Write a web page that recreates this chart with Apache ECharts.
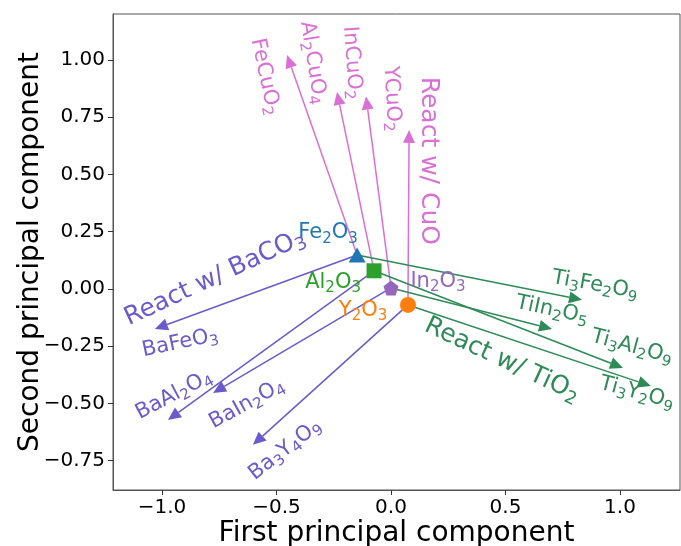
<!DOCTYPE html>
<html>
<head>
<meta charset="utf-8">
<script src="https://cdn.jsdelivr.net/npm/echarts@6/dist/echarts.min.js"></script>
<style>html,body{margin:0;padding:0;background:#fff}#c{width:681px;height:546px}</style>
</head>
<body>
<div id="c"></div>
<script>
// ---- data ----
const oxides = ['Fe2O3', 'Al2O3', 'In2O3', 'Y2O3'];
const oxideX = [-0.148, -0.074, 0.000, 0.074];
const oxideY = [0.148, 0.079, 0.004, -0.070];

const cuoProducts = ['FeCuO2', 'Al2CuO4', 'InCuO2', 'YCuO2'];
const cuoX = [-0.454, -0.236, -0.109, 0.079];
const cuoY = [1.021, 0.860, 0.840, 0.694];

const tio2Products = ['Ti3Fe2O9', 'Ti3Al2O9', 'TiIn2O5', 'Ti3Y2O9'];
const tio2X = [0.834, 1.013, 0.703, 1.135];
const tio2Y = [-0.048, -0.345, -0.175, -0.424];

const bacoProducts = ['BaFeO3', 'BaAl2O4', 'BaIn2O4', 'Ba3Y4O9'];
const bacoX = [-1.031, -0.974, -0.777, -0.603];
const bacoY = [-0.175, -0.572, -0.454, -0.681];

// annotation anchors (data units) and rotation (deg)
const labelText = ['FeCuO2', 'Al2CuO4', 'InCuO2', 'YCuO2', 'React w/ CuO',
  'Fe2O3', 'Al2O3', 'In2O3', 'Y2O3',
  'Ti3Fe2O9', 'TiIn2O5', 'Ti3Al2O9', 'Ti3Y2O9', 'React w/ TiO2',
  'React w/ BaCO3', 'BaFeO3', 'BaAl2O4', 'BaIn2O4', 'Ba3Y4O9'];
const labelX = [-0.550, -0.341, -0.170, 0.004, 0.162,
  -0.275, -0.253, 0.205, -0.122,
  0.891, 0.703, 1.052, 1.074, 0.485,
  -0.769, -0.921, -0.948, -0.629, -0.463];
const labelY = [0.926, 0.987, 0.987, 0.830, 0.559,
  0.244, 0.026, 0.031, -0.096,
  0.017, -0.092, -0.253, -0.454, -0.310,
  0.048, -0.236, -0.463, -0.502, -0.703];
const labelRot = [-78, -81, -86, -87, -90,
  0, 0, 0, 0,
  -10, -12, -15, -15, -25,
  25, 12, 28, 29, 38];
const labelGroup = ['cuo', 'cuo', 'cuo', 'cuo', 'cuoBig',
  'ox0', 'ox1', 'ox2', 'ox3',
  'ti', 'ti', 'ti', 'ti', 'tiBig',
  'baBig', 'ba', 'ba', 'ba', 'ba'];

const xTicks = [-1.0, -0.5, 0.0, 0.5, 1.0];
const yTicks = [-0.75, -0.5, -0.25, 0, 0.25, 0.5, 0.75, 1.0];

// ---- styles ----
const PINK = '#DA70D6', PURPLE = '#6A5ACD', GREEN = '#2E8B57';
const markerColors = ['#1f77b4', '#2ca02c', '#9467bd', '#ff7f0e'];
const markerSymbols = ['triangle', 'rect',
  'path://M0,-1 L0.951,-0.309 L0.588,0.809 L-0.588,0.809 L-0.951,-0.309 Z', 'circle'];
const markerSizes = [[17, 15], [15, 15], [15, 15], [16, 16]];
const FONT = 'DejaVu Sans';
const groupStyle = {
  cuo: {c: PINK, fs: 21}, cuoBig: {c: PINK, fs: 25},
  ti: {c: GREEN, fs: 21}, tiBig: {c: GREEN, fs: 25},
  ba: {c: PURPLE, fs: 21}, baBig: {c: PURPLE, fs: 25},
  ox0: {c: markerColors[0], fs: 21}, ox1: {c: markerColors[1], fs: 21},
  ox2: {c: markerColors[2], fs: 21}, ox3: {c: markerColors[3], fs: 21}
};

function toRich(s) { return s.replace(/([A-Za-z])(\d)/g, '$1{s|$2}'); }

function arrowData(tx, ty) {
  return oxides.map((o, i) => [oxideX[i], oxideY[i], tx[i], ty[i]]);
}

function arrowSeries(name, tx, ty, color) {
  return {
    type: 'custom', name, coordinateSystem: 'cartesian2d', z: 2,
    data: arrowData(tx, ty),
    encode: {x: [0, 2], y: [1, 3]},
    renderItem: function (params, api) {
      const p0 = api.coord([api.value(0), api.value(1)]);
      const p1 = api.coord([api.value(2), api.value(3)]);
      const dx = p1[0] - p0[0], dy = p1[1] - p0[1];
      const L = Math.sqrt(dx * dx + dy * dy);
      const ux = dx / L, uy = dy / L;
      const hl = 13, hw = 6;
      const bx = p1[0] - ux * hl, by = p1[1] - uy * hl;
      return {
        type: 'group', children: [
          {type: 'line', shape: {x1: p0[0], y1: p0[1], x2: bx, y2: by},
            style: {stroke: color, lineWidth: 1.5}},
          {type: 'polygon', shape: {points: [[p1[0], p1[1]],
            [bx - uy * hw, by + ux * hw], [bx + uy * hw, by - ux * hw]]},
            style: {fill: color}}
        ]
      };
    }
  };
}

const markerSeries = oxides.map((o, i) => ({
  type: 'scatter', name: o, z: 5,
  symbol: markerSymbols[i], symbolSize: markerSizes[i],
  itemStyle: {color: markerColors[i], opacity: 1},
  data: [[oxideX[i], oxideY[i]]]
}));

const labelSeries = {
  type: 'custom', coordinateSystem: 'cartesian2d', z: 6,
  data: labelText.map((t, i) => [labelX[i], labelY[i], i]),
  renderItem: function (params, api) {
    const i = api.value(2);
    const p = api.coord([api.value(0), api.value(1)]);
    const g = groupStyle[labelGroup[i]];
    return {
      type: 'text', x: p[0], y: p[1], rotation: labelRot[i] * Math.PI / 180,
      style: {
        text: toRich(labelText[i]), fill: g.c, fontFamily: FONT, fontSize: g.fs,
        align: 'center', verticalAlign: 'middle', lineHeight: g.fs * 1.25,
        rich: {s: {fontSize: Math.round(g.fs * 0.7), fill: g.c, fontFamily: FONT,
          verticalAlign: 'bottom', lineHeight: Math.round(g.fs * 0.7)}}
      }
    };
  }
};

const chart = echarts.init(document.getElementById('c'));
chart.setOption({
  animation: false,
  backgroundColor: '#fff',
  grid: {left: 113, right: 1, top: 14, bottom: 56, containLabel: false, outerBoundsMode: 'none',
    show: true, borderColor: '#555', borderWidth: 1},
  xAxis: {
    type: 'value', min: -1.214, max: 1.262,
    name: 'First principal component', nameLocation: 'middle', nameGap: 30, nameMoveOverlap: false,
    nameTextStyle: {fontFamily: FONT, fontSize: 28, color: '#000'},
    splitLine: {show: false},
    axisLine: {show: true, onZero: false, lineStyle: {color: '#555'}},
    axisTick: {show: true, length: 5, customValues: xTicks, lineStyle: {color: '#333'}},
    axisLabel: {customValues: xTicks, fontFamily: FONT, fontSize: 20, color: '#000', margin: 8,
      formatter: v => (v < 0 ? '\u2212' : '') + Math.abs(v).toFixed(1)}
  },
  yAxis: {
    type: 'value', min: -0.878, max: 1.20,
    name: 'Second principal component', nameLocation: 'middle', nameGap: 68, nameMoveOverlap: false,
    nameTextStyle: {fontFamily: FONT, fontSize: 28, color: '#000'},
    splitLine: {show: false},
    axisLine: {show: true, onZero: false, lineStyle: {color: '#555'}},
    axisTick: {show: true, length: 5, customValues: yTicks, lineStyle: {color: '#333'}},
    axisLabel: {customValues: yTicks, fontFamily: FONT, fontSize: 20, color: '#000', margin: 8,
      formatter: v => (v < 0 ? '\u2212' : '') + Math.abs(v).toFixed(2)}
  },
  series: [
    arrowSeries('CuO', cuoX, cuoY, PINK),
    arrowSeries('TiO2', tio2X, tio2Y, GREEN),
    arrowSeries('BaCO3', bacoX, bacoY, PURPLE),
    ...markerSeries,
    labelSeries
  ]
});
</script>
</body>
</html>
